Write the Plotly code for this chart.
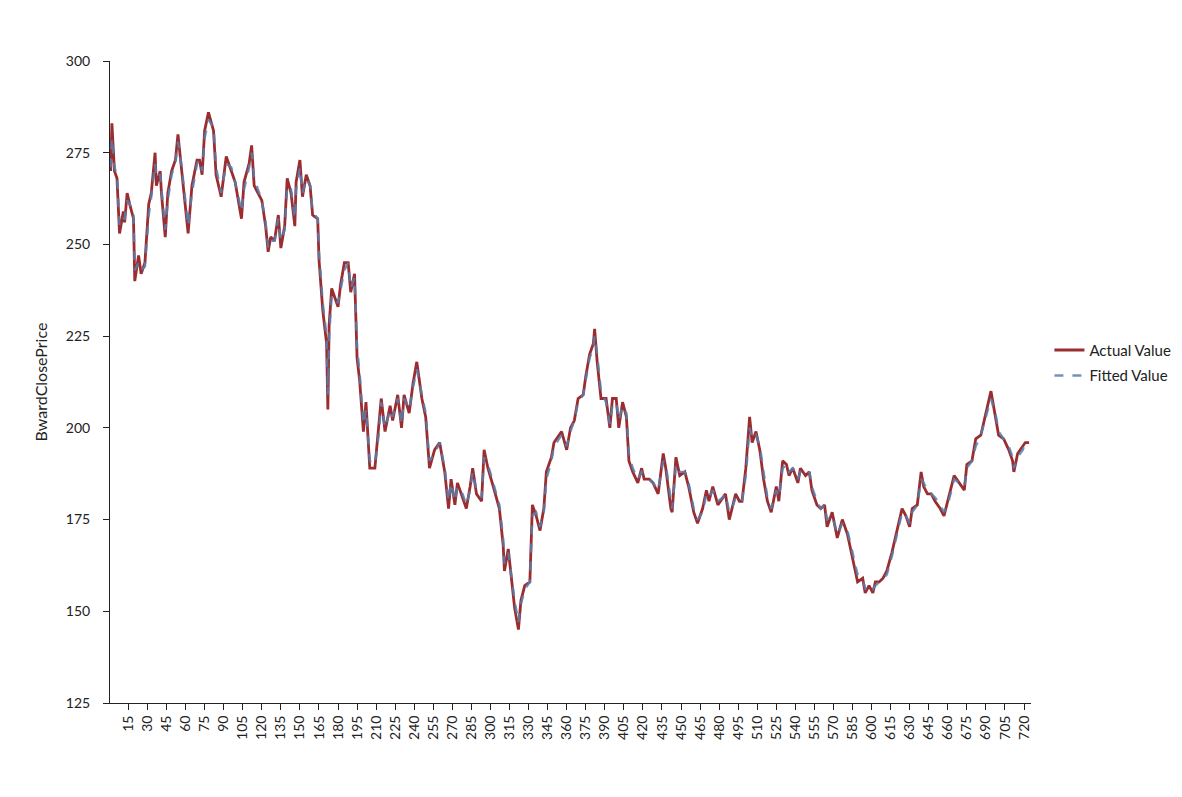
import plotly.graph_objects as go

# Observation index (day number) of each sampled point
day = [
    1, 2, 4, 6, 8, 11, 12, 14, 16, 19,
    20, 23, 25, 28, 31, 33, 36, 37, 40, 41,
    44, 46, 49, 52, 54, 57, 59, 62, 65, 69,
    71, 73, 75, 78, 82, 84, 88, 92, 96, 99,
    104, 106, 110, 112, 114, 120, 123, 125, 127, 130,
    133, 135, 138, 140, 143, 146, 147, 150, 152, 155,
    158, 160, 164, 165, 168, 171, 172, 173, 175, 177,
    180, 182, 185, 188, 190, 193, 195, 197, 200, 202,
    205, 209, 212, 214, 217, 221, 223, 227, 230, 232,
    236, 239, 242, 246, 249, 252, 256, 260, 264, 267,
    269, 272, 274, 278, 281, 284, 286, 289, 293, 295,
    298, 303, 307, 310, 311, 314, 316, 319, 322, 324,
    327, 331, 333, 336, 339, 342, 344, 348, 350, 356,
    360, 363, 366, 369, 373, 375, 378, 381, 382, 384,
    387, 391, 394, 396, 399, 401, 404, 407, 409, 412,
    416, 419, 421, 425, 428, 432, 436, 438, 442, 443,
    446, 449, 453, 456, 460, 463, 467, 470, 472, 475,
    479, 483, 485, 488, 490, 493, 496, 498, 501, 504,
    506, 509, 512, 515, 518, 521, 525, 527, 530, 533,
    535, 538, 542, 544, 548, 551, 553, 557, 560, 563,
    565, 569, 573, 577, 581, 585, 589, 593, 595, 598,
    601, 603, 606, 609, 612, 616, 620, 624, 627, 630,
    632, 636, 639, 641, 644, 647, 650, 654, 657, 660,
    662, 665, 669, 673, 675, 679, 682, 686, 690, 694,
    698, 700, 704, 708, 711, 712, 715, 719, 721, 724,
]

actual_value = [
    270, 283, 270, 268, 253, 259, 256, 264, 261, 257,
    240, 247, 242, 245, 261, 264, 275, 266, 270, 264,
    252, 264, 270, 273, 280, 270, 263, 253, 266, 273,
    273, 269, 281, 286, 281, 269, 263, 274, 270, 267,
    257, 267, 272, 277, 266, 262, 255, 248, 252, 251,
    258, 249, 255, 268, 264, 255, 267, 273, 263, 269,
    266, 258, 257, 246, 232, 223, 205, 228, 238, 236,
    233, 239, 245, 245, 237, 242, 219, 213, 199, 207,
    189, 189, 200, 208, 199, 206, 202, 209, 200, 209,
    204, 212, 218, 208, 203, 189, 194, 196, 188, 178,
    186, 179, 185, 181, 178, 184, 189, 182, 180, 194,
    189, 183, 178, 168, 161, 167, 160, 151, 145, 153,
    157, 158, 179, 176, 172, 178, 188, 192, 196, 199,
    194, 200, 202, 208, 209, 214, 220, 223, 227, 218,
    208, 208, 200, 208, 208, 200, 207, 203, 191, 188,
    185, 189, 186, 186, 185, 182, 193, 189, 178, 177,
    192, 187, 188, 184, 177, 174, 178, 183, 180, 184,
    179, 181, 182, 175, 178, 182, 180, 180, 189, 203,
    196, 199, 194, 186, 180, 177, 184, 180, 191, 190,
    187, 189, 185, 189, 187, 188, 183, 179, 178, 179,
    173, 177, 170, 175, 171, 164, 158, 159, 155, 157,
    155, 158, 158, 159, 161, 166, 172, 178, 176, 173,
    178, 179, 188, 184, 182, 182, 180, 178, 176, 180,
    183, 187, 185, 183, 190, 191, 197, 198, 204, 210,
    202, 198, 197, 194, 191, 188, 193, 195, 196, 196,
]

fitted_value = [
    271, 279, 271, 269, 255, 257, 257, 262, 261, 258,
    243, 245, 243, 244, 258, 263, 272, 268, 269, 265,
    254, 262, 269, 272, 278, 271, 264, 255, 264, 272,
    273, 270, 279, 284, 282, 271, 264, 272, 271, 267,
    259, 265, 271, 275, 268, 262, 256, 249, 251, 251,
    257, 251, 254, 266, 265, 257, 265, 271, 264, 268,
    266, 259, 257, 248, 234, 225, 209, 225, 236, 236,
    234, 238, 243, 245, 238, 241, 222, 215, 201, 205,
    191, 190, 198, 207, 200, 205, 203, 208, 201, 208,
    205, 211, 216, 209, 204, 191, 193, 196, 189, 180,
    185, 180, 184, 182, 179, 183, 188, 183, 181, 192,
    190, 184, 179, 170, 163, 166, 161, 153, 147, 152,
    156, 158, 176, 177, 173, 177, 186, 191, 195, 198,
    195, 199, 202, 207, 209, 213, 219, 222, 225, 220,
    210, 207, 201, 206, 207, 202, 206, 204, 193, 189,
    186, 188, 187, 186, 185, 183, 191, 190, 180, 178,
    190, 188, 188, 185, 178, 175, 177, 182, 181, 183,
    180, 181, 182, 177, 178, 181, 181, 180, 187, 200,
    197, 198, 195, 188, 181, 178, 183, 181, 189, 190,
    188, 189, 186, 188, 187, 188, 184, 180, 178, 179,
    175, 176, 171, 174, 172, 166, 160, 159, 156, 157,
    156, 157, 158, 159, 160, 165, 171, 177, 176, 174,
    177, 179, 186, 185, 183, 182, 181, 179, 177, 179,
    182, 186, 185, 184, 189, 191, 195, 198, 203, 208,
    203, 199, 197, 195, 192, 189, 192, 194, 196, 196,
]

x_ticks = list(range(15, 721, 15))
y_ticks = [125, 150, 175, 200, 225, 250, 275, 300]

assert len(day) == len(actual_value) == len(fitted_value)

FONT = "Lato, 'Open Sans', sans-serif"

fig = go.Figure()
fig.add_trace(go.Scatter(
    x=day, y=actual_value, mode="lines", name="Actual Value",
    legendgroup="a",
    line=dict(color="#9b2d30", width=2.8),
))
fig.add_trace(go.Scatter(
    x=day, y=fitted_value, mode="lines", name="Fitted Value",
    legendgroup="b",
    line=dict(color="#5a7fae", width=2.4, dash="dash"),
    opacity=0.85,
))

fig.update_layout(
    width=1166, height=781,
    margin=dict(l=102, r=143, t=53, b=86, autoexpand=False),
    paper_bgcolor="white", plot_bgcolor="white",
    font=dict(family=FONT, size=14, color="#222222"),
    showlegend=True,
    legend=dict(
        x=1.02, xanchor="left", y=0.53, yanchor="middle",
        font=dict(size=15, color="#222222"),
        bgcolor="rgba(0,0,0,0)", itemwidth=30,
        traceorder="grouped", tracegroupgap=3,
    ),
    xaxis=dict(
        range=[0.5, 725.5], tickmode="array", tickvals=x_ticks,
        ticktext=[str(t) for t in x_ticks], tickangle=-90,
        showgrid=False, zeroline=False, showline=True,
        linecolor="#222222", linewidth=1,
        ticks="outside", ticklen=6, tickcolor="#222222",
        tickfont=dict(size=14), automargin=False,
    ),
    yaxis=dict(
        range=[125, 300], tickmode="array", tickvals=y_ticks,
        showgrid=False, zeroline=False, showline=True,
        linecolor="#222222", linewidth=1,
        ticks="outside", ticklen=6, tickcolor="#222222",
        tickfont=dict(size=14), ticklabelstandoff=10, automargin=False,
        title=dict(text="BwardClosePrice", font=dict(size=16), standoff=14),
    ),
)

fig.write_html("out.html")
